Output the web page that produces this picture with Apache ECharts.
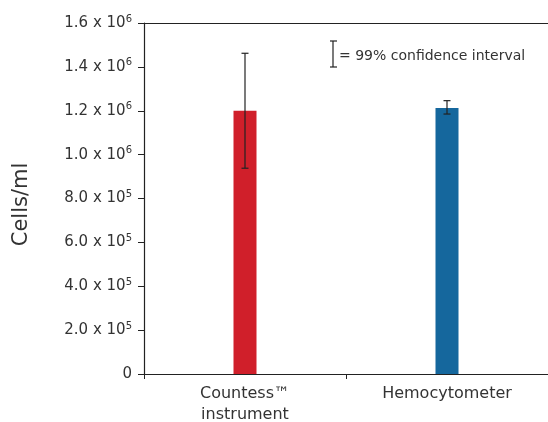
<!DOCTYPE html>
<html>
<head>
<meta charset="utf-8">
<script src="https://cdn.jsdelivr.net/npm/echarts@6/dist/echarts.min.js"></script>
<style>
html,body{margin:0;padding:0;background:#fff;}
#chart{width:548px;height:422px;}
</style>
</head>
<body>
<div id="chart"></div>
<script>
const categories = ['Countess™\ninstrument', 'Hemocytometer'];
const means = [1200000, 1212000];
const ciLow = [938000, 1185000];
const ciHigh = [1462000, 1246000];
const barColors = ['#d01f2a', '#15679d'];
const yTicks = [0, 200000, 400000, 600000, 800000, 1000000, 1200000, 1400000, 1600000];
const yTickLabels = ['0', '2.0 x 10{s|5}', '4.0 x 10{s|5}', '6.0 x 10{s|5}', '8.0 x 10{s|5}', '1.0 x 10{s|6}', '1.2 x 10{s|6}', '1.4 x 10{s|6}', '1.6 x 10{s|6}'];
const legendText = '= 99% confidence interval';

const font = 'DejaVu Sans, Verdana, sans-serif';
const chart = echarts.init(document.getElementById('chart'));

const option = {
  animation: false,
  backgroundColor: '#fff',
  grid: { left: 144, right: 0, top: 23, bottom: 48, containLabel: false, outerBoundsMode: 'none' },
  xAxis: [{
    type: 'category',
    data: categories,
    axisLine: { lineStyle: { color: '#222', width: 1.2 } },
    axisTick: { show: true, length: 5, lineStyle: { color: '#222' } },
    axisLabel: { color: '#333', fontSize: 16, fontFamily: font, lineHeight: 21, margin: 9 },
    splitLine: { show: false }
  }, {
    type: 'category',
    data: categories,
    position: 'top',
    axisLine: { lineStyle: { color: '#222', width: 1.2 } },
    axisTick: { show: false },
    axisLabel: { show: false }
  }],
  yAxis: {
    type: 'value',
    min: 0, max: 1600000, interval: 200000,
    name: 'Cells/ml',
    nameLocation: 'middle',
    nameGap: 112,
    nameTextStyle: { fontSize: 21, color: '#333', fontFamily: font, padding: [0, 12, 0, 0] },
    axisLine: { show: true, lineStyle: { color: '#222', width: 1.2 } },
    axisTick: { show: true, length: 6, lineStyle: { color: '#222' } },
    splitLine: { show: false },
    axisLabel: {
      color: '#333', fontSize: 15, fontFamily: font, margin: 12,
      formatter: function (v) {
        const i = yTicks.indexOf(v);
        return i >= 0 ? yTickLabels[i] : '';
      },
      rich: {
        s: { fontSize: 10, verticalAlign: 'top', color: '#333', fontFamily: font, padding: [0, 0, 8, 0] }
      }
    }
  },
  series: [{
    type: 'bar',
    data: means.map((v, i) => ({ value: v, itemStyle: { color: barColors[i] } })),
    barWidth: 23
  }, {
    type: 'custom',
    data: means.map((v, i) => [i, ciLow[i], ciHigh[i]]),
    z: 10,
    renderItem: function (params, api) {
      const x = api.value(0);
      const lo = api.coord([x, api.value(1)]);
      const hi = api.coord([x, api.value(2)]);
      const hw = 3.5;
      const style = { stroke: '#222', lineWidth: 1.2 };
      return {
        type: 'group',
        children: [
          { type: 'line', shape: { x1: lo[0], y1: lo[1], x2: hi[0], y2: hi[1] }, style },
          { type: 'line', shape: { x1: lo[0] - hw, y1: lo[1], x2: lo[0] + hw, y2: lo[1] }, style },
          { type: 'line', shape: { x1: hi[0] - hw, y1: hi[1], x2: hi[0] + hw, y2: hi[1] }, style }
        ]
      };
    }
  }],
  graphic: [
    { type: 'line', shape: { x1: 333, y1: 41, x2: 333, y2: 67 }, style: { stroke: '#222', lineWidth: 1.2 } },
    { type: 'line', shape: { x1: 330, y1: 41, x2: 337, y2: 41 }, style: { stroke: '#222', lineWidth: 1.2 } },
    { type: 'line', shape: { x1: 330, y1: 67, x2: 337, y2: 67 }, style: { stroke: '#222', lineWidth: 1.2 } },
    { type: 'text', left: 339, top: 49, style: { text: legendText, fontSize: 14, fill: '#333', fontFamily: font } }
  ]
};
chart.setOption(option);
</script>
</body>
</html>
